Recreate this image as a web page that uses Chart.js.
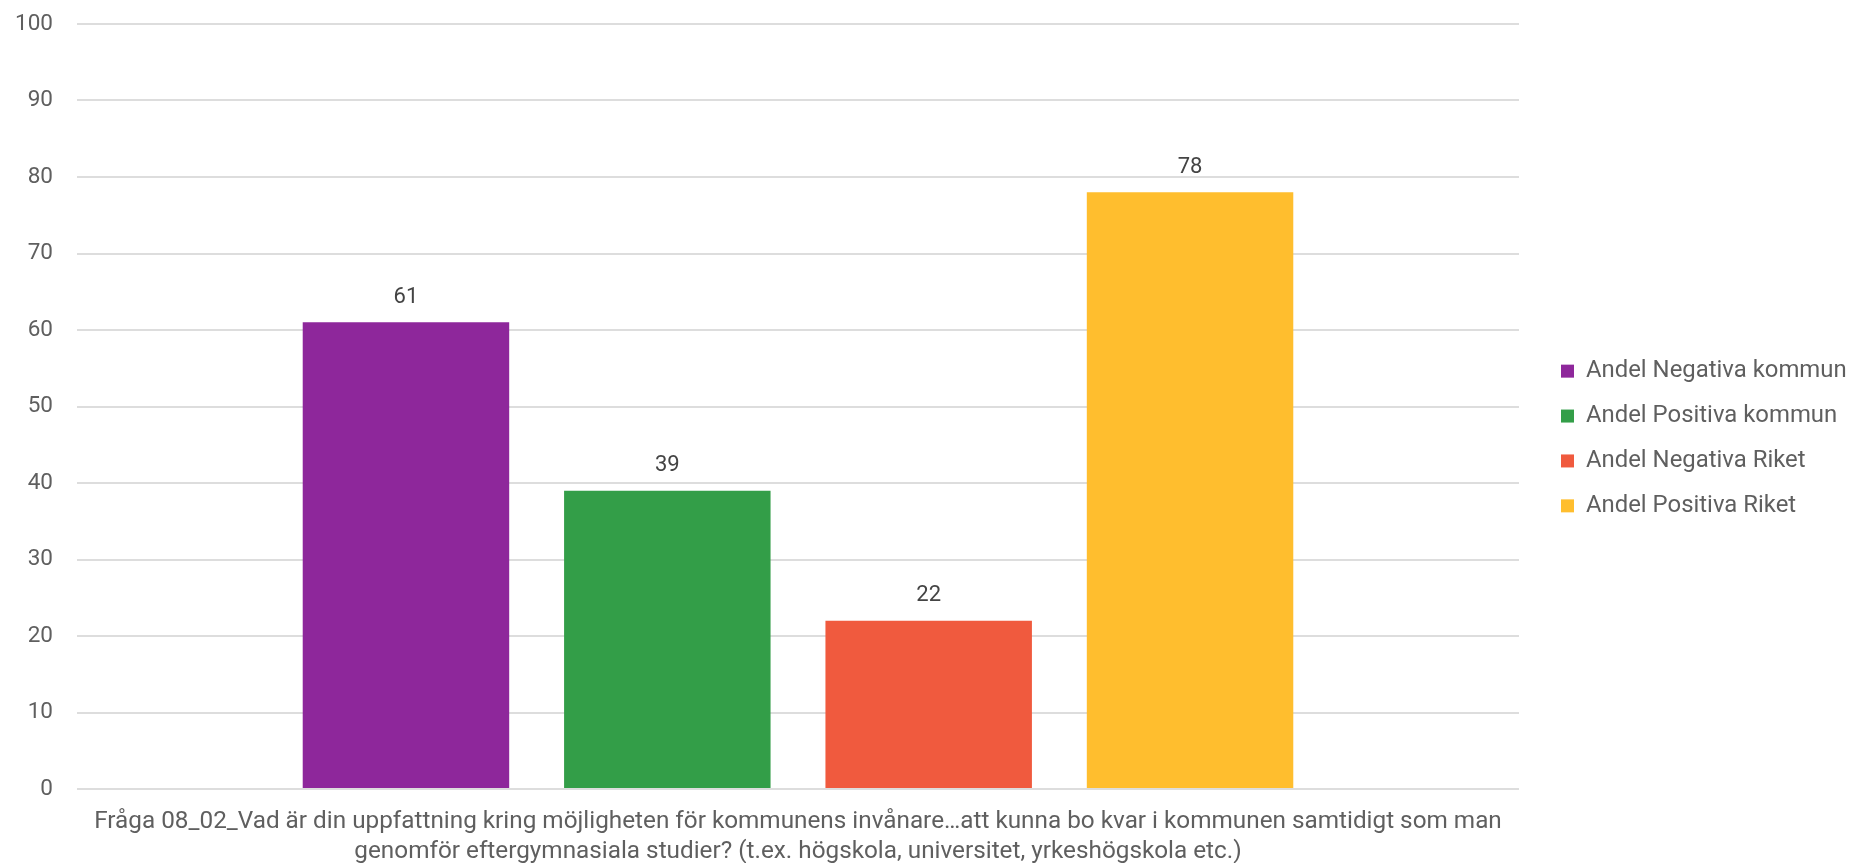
<!DOCTYPE html>
<html>
<head>
<meta charset="utf-8">
<script src="https://cdn.jsdelivr.net/npm/chart.js@4/dist/chart.umd.min.js"></script>
<style>
  html, body { margin: 0; padding: 0; background: #fff; }
  #wrap { width: 1855px; height: 863px; position: relative; }
</style>
</head>
<body>
<div id="wrap"><canvas id="chart"></canvas></div>
<script>
// Data
var categories = [[
  'Fråga 08_02_Vad är din uppfattning kring möjligheten för kommunens invånare…att kunna bo kvar i kommunen samtidigt som man',
  'genomför eftergymnasiala studier? (t.ex. högskola, universitet, yrkeshögskola etc.)'
]];
var seriesNames = ['Andel Negativa kommun', 'Andel Positiva kommun', 'Andel Negativa Riket', 'Andel Positiva Riket'];
var seriesValues = [[61], [39], [22], [78]];
var seriesColors = ['#8e279b', '#339e48', '#f05a3e', '#ffbe2e'];
var yTicks = [0, 10, 20, 30, 40, 50, 60, 70, 80, 90, 100];

var fontFamily = 'Roboto, "Noto Sans", sans-serif';

var datasets = seriesNames.map(function(name, i) {
  return {
    label: name,
    data: seriesValues[i],
    backgroundColor: seriesColors[i],
    borderWidth: 0,
    categoryPercentage: 0.725,
    barPercentage: 0.79
  };
});

// value labels above bars
var valueLabels = {
  id: 'valueLabels',
  afterDatasetsDraw: function(chart) {
    var ctx = chart.ctx;
    ctx.save();
    ctx.font = '22px ' + fontFamily;
    ctx.fillStyle = '#444444';
    ctx.textAlign = 'center';
    ctx.textBaseline = 'middle';
    chart.data.datasets.forEach(function(ds, i) {
      var meta = chart.getDatasetMeta(i);
      meta.data.forEach(function(bar, j) {
        ctx.fillText(ds.data[j], bar.x, bar.y - 25);
      });
    });
    ctx.restore();
  }
};

// fixed legend width and placement
var legendFix = {
  id: 'legendFix',
  beforeLayout: function(chart) {
    var legend = chart.legend;
    if (legend && !legend._fixed) {
      var origFit = legend.fit;
      legend.fit = function() {
        origFit.call(this);
        this.width = 336;
      };
      legend._fixed = true;
    }
  },
  afterLayout: function(chart) {
    var legend = chart.legend;
    legend.left += 21;
    legend.right += 21;
    legend.top -= 5;
    legend.bottom -= 5;
  }
};

var stockChart = new Chart(document.getElementById('chart'), {
  type: 'bar',
  data: {
    labels: categories,
    datasets: datasets
  },
  plugins: [valueLabels, legendFix],
  options: {
    responsive: true,
    maintainAspectRatio: false,
    animation: false,
    layout: {
      padding: { top: 24, right: 0, bottom: 0, left: 0 }
    },
    plugins: {
      legend: {
        position: 'right',
        align: 'center',
        labels: {
          boxWidth: 13,
          boxHeight: 13,
          padding: 21,
          color: '#5f5f5f',
          font: { family: fontFamily, size: 23.9 }
        }
      },
      tooltip: { enabled: false }
    },
    scales: {
      x: {
        grid: { display: false },
        border: { display: false },
        ticks: {
          color: '#5f5f5f',
          padding: 10,
          maxRotation: 0,
          autoSkip: false,
          font: { family: fontFamily, size: 24.3, lineHeight: 1.24 }
        },
        afterFit: function(scale) { scale.height = 74; }
      },
      y: {
        min: 0,
        max: 100,
        afterBuildTicks: function(scale) {
          scale.ticks = yTicks.map(function(v) { return { value: v }; });
        },
        grid: { color: '#dddddd', lineWidth: 2, drawTicks: false },
        border: { display: false },
        ticks: {
          color: '#5f5f5f',
          padding: 24,
          font: { family: fontFamily, size: 22.5 }
        },
        afterFit: function(scale) {
          scale.width = 77;
          scale.paddingTop = 0;
          scale.paddingBottom = 0;
        }
      }
    }
  }
});
</script>
</body>
</html>
